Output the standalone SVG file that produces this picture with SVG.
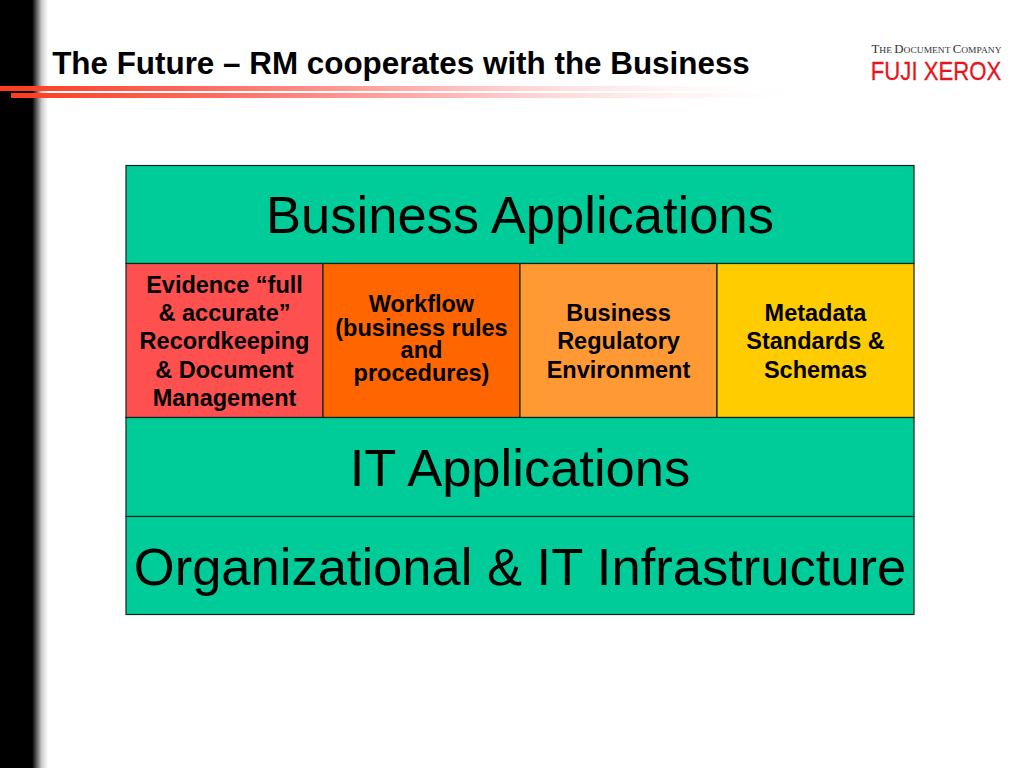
<svg xmlns="http://www.w3.org/2000/svg" width="1024" height="768" viewBox="0 0 1024 768">
<style>
text{font-family:"Liberation Sans",Arial,sans-serif;fill:#000;text-anchor:middle}
.cell{stroke:#10261c;stroke-width:1.2}
.big{font-size:52.5px}
.small{font-size:23.5px;font-weight:bold}
</style>
<defs>
<linearGradient id="shadow" x1="0" x2="1" y1="0" y2="0"><stop offset="0" stop-color="#000"/><stop offset="0.67" stop-color="#000"/><stop offset="0.77" stop-color="#666"/><stop offset="0.87" stop-color="#ccc"/><stop offset="1" stop-color="#fff"/></linearGradient>
<linearGradient id="bar" x1="0" x2="1" y1="0" y2="0"><stop offset="0" stop-color="#ff3a1e"/><stop offset="0.25" stop-color="#ff6a60"/><stop offset="0.6" stop-color="#ffc8c8"/><stop offset="1" stop-color="#fff" stop-opacity="0"/></linearGradient>
</defs>
<rect width="1024" height="768" fill="#fff"/>
<rect x="0" y="0" width="48" height="768" fill="url(#shadow)"/>
<rect x="0" y="86" width="810" height="5" fill="url(#bar)"/>
<rect x="11" y="93" width="820" height="5" fill="url(#bar)"/>
<text x="401" y="74" style="font-size:31.4px;font-weight:bold">The Future – RM cooperates with the Business</text>
<g id="logo">
<text x="936.500" y="52.500" style="font-family:'Liberation Serif',serif;font-size:11.500px;fill:#333" textLength="130" lengthAdjust="spacingAndGlyphs">T<tspan font-size="8.500">HE </tspan>D<tspan font-size="8.500">OCUMENT </tspan>C<tspan font-size="8.500">OMPANY</tspan></text>
<text transform="translate(936 80) scale(0.836 1)" style="font-size:26.500px;fill:#e8141c;stroke:#e8141c;stroke-width:0.3">FUJI XEROX</text>
</g>
<g id="business-applications"><rect class="cell" x="126" y="165.500" width="788" height="98" fill="#00cc99"/><text class="big" x="520" y="233">Business Applications</text></g>
<g id="evidence"><rect class="cell" x="126" y="263.500" width="197" height="154" fill="#ff5050"/>
<text class="small" x="224.500" y="293">Evidence “full</text><text class="small" x="224.500" y="321">&amp; accurate”</text><text class="small" x="224.500" y="349">Recordkeeping</text><text class="small" x="224.500" y="378">&amp; Document</text><text class="small" x="224.500" y="406">Management</text></g>
<g id="workflow"><rect class="cell" x="323" y="263.500" width="197" height="154" fill="#ff6600"/>
<text class="small" x="421.500" y="312">Workflow</text><text class="small" x="421.500" y="336">(business rules</text><text class="small" x="421.500" y="358">and</text><text class="small" x="421.500" y="381">procedures)</text></g>
<g id="regulatory"><rect class="cell" x="520" y="263.500" width="197" height="154" fill="#ff9933"/>
<text class="small" x="618.500" y="321">Business</text><text class="small" x="618.500" y="349">Regulatory</text><text class="small" x="618.500" y="378">Environment</text></g>
<g id="metadata"><rect class="cell" x="717" y="263.500" width="197" height="154" fill="#ffcc00"/>
<text class="small" x="815.500" y="321">Metadata</text><text class="small" x="815.500" y="349">Standards &amp;</text><text class="small" x="815.500" y="378">Schemas</text></g>
<g id="it-applications"><rect class="cell" x="126" y="417.500" width="788" height="99" fill="#00cc99"/><text class="big" x="520" y="486">IT Applications</text></g>
<g id="infrastructure"><rect class="cell" x="126" y="516.500" width="788" height="98" fill="#00cc99"/><text class="big" x="520" y="585">Organizational &amp; IT Infrastructure</text></g>
<g id="connectors"/>
</svg>
